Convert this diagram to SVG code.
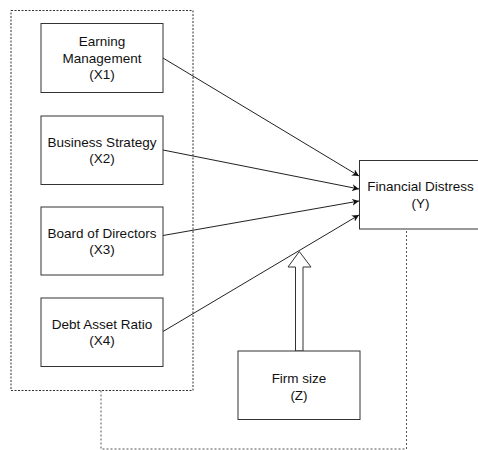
<svg xmlns="http://www.w3.org/2000/svg" width="478" height="450" viewBox="0 0 478 450">
<style>
.box{fill:#fff;stroke:#333;stroke-width:1}
.t{font-family:"Liberation Sans",Arial,sans-serif;font-size:13.5px;fill:#111;text-anchor:middle}
.c{stroke:#222;stroke-width:1;fill:none}
.dot{fill:none;stroke:#333;stroke-width:1;stroke-dasharray:2 1.5}
.dash{fill:none;stroke:#555;stroke-width:1;stroke-dasharray:2 2}
</style>
<defs>
<marker id="ah" viewBox="0 0 10 10" refX="10" refY="5" markerWidth="7" markerHeight="7" markerUnits="userSpaceOnUse" orient="auto">
<path d="M0,0 L10,5 L0,10 L3,5 z" fill="#111"/>
</marker>
</defs>
<g id="group-x">
<rect class="dot" x="11" y="10.5" width="182" height="380"/>
</g>
<g id="connectors">
<polyline class="dash" points="101,390.5 101,449 406.5,449 406.5,229"/>
<line class="c" x1="163" y1="58" x2="359" y2="176" marker-end="url(#ah)"/>
<line class="c" x1="163" y1="150" x2="359" y2="189" marker-end="url(#ah)"/>
<line class="c" x1="163" y1="235.5" x2="359" y2="201" marker-end="url(#ah)"/>
<line class="c" x1="163" y1="331.5" x2="359" y2="215" marker-end="url(#ah)"/>
<polygon points="295.5,351 295.5,267 288,267 299.3,251.5 311,267 303,267 303,351" fill="#fff" stroke="#333" stroke-width="1"/>
</g>
<g id="x1">
<rect class="box" x="41" y="23.5" width="122" height="69"/>
<text class="t" x="102" y="46">Earning</text>
<text class="t" x="102" y="62.5">Management</text>
<text class="t" x="102" y="79">(X1)</text>
</g>
<g id="x2">
<rect class="box" x="41" y="116" width="122" height="68.5"/>
<text class="t" x="102" y="146.5">Business Strategy</text>
<text class="t" x="102" y="163">(X2)</text>
</g>
<g id="x3">
<rect class="box" x="41" y="207" width="122" height="68"/>
<text class="t" x="102" y="237.5">Board of Directors</text>
<text class="t" x="102" y="254">(X3)</text>
</g>
<g id="x4">
<rect class="box" x="41" y="298" width="122" height="68.5"/>
<text class="t" x="102" y="328.5">Debt Asset Ratio</text>
<text class="t" x="102" y="345">(X4)</text>
</g>
<g id="y">
<rect class="box" x="359.5" y="160.5" width="122" height="68.5"/>
<text class="t" x="420.5" y="191">Financial Distress</text>
<text class="t" x="420.5" y="207.5">(Y)</text>
</g>
<g id="z">
<rect class="box" x="238" y="351" width="122" height="68.5"/>
<text class="t" x="299" y="383">Firm size</text>
<text class="t" x="299" y="399.5">(Z)</text>
</g>
</svg>
